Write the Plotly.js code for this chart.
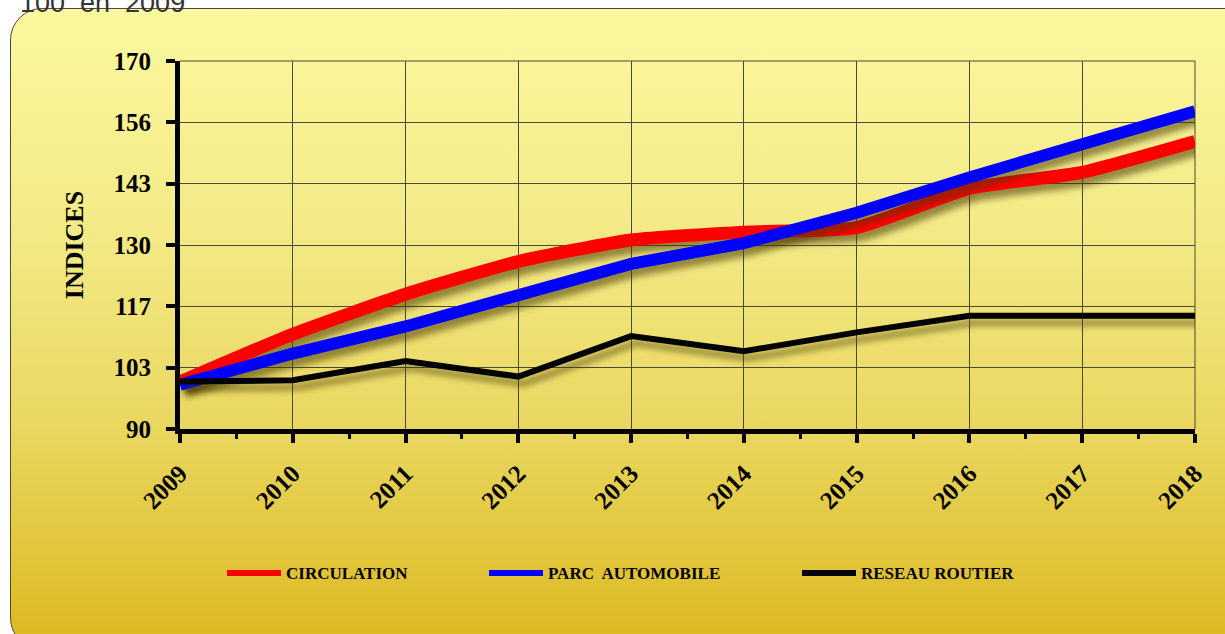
<!DOCTYPE html>
<html>
<head>
<meta charset="utf-8">
<script src="https://cdn.plot.ly/plotly-3.0.1.min.js"></script>
<style>
  html, body { margin: 0; padding: 0; background: #ffffff; overflow: hidden; }
  #panel {
    position: absolute; left: 10px; top: 8px; width: 1250px; height: 640px;
    border: 1px solid #4a4a40; border-radius: 32px;
    background: linear-gradient(to bottom, #fbf89f 0%, #f3ea86 35%, #e9d760 65%, #dcb81f 100%);
  }
  #chart { position: absolute; left: 0; top: 0; width: 1225px; height: 634px; }
  #chart .scatterlayer path.js-line { filter: drop-shadow(5px 7px 3px rgba(70,55,0,0.55)); }
  #chart path.xline, #chart path.yline { filter: drop-shadow(4px 6px 3px rgba(70,55,0,0.55)); }
</style>
</head>
<body>
<div id="panel"></div>
<div id="chart"></div>
<script>
// ---- data ----
const years = [2009, 2010, 2011, 2012, 2013, 2014, 2015, 2016, 2017, 2018];
const circulation = [100.2, 110.6, 119.3, 126.4, 131.1, 132.8, 133.8, 142.3, 145.8, 152.5];
const parcAutomobile = [99.6, 106.4, 112.3, 118.9, 125.9, 130.4, 137.0, 144.7, 152.2, 159.1];
const reseauRoutier = [100.3, 100.6, 104.8, 101.4, 110.2, 106.9, 111.0, 114.6, 114.6, 114.6];
const yTickVals = [90, 103.333, 116.667, 130, 143.333, 156.667, 170];
const yTickText = ['90', '103', '117', '130', '143', '156', '170'];
const seriesNames = ['CIRCULATION', 'PARC  AUTOMOBILE', 'RESEAU ROUTIER'];
const seriesColors = ['#ff0000', '#0000ff', '#000000'];

// ---- layout geometry (pixels) ----
const W = 1225, H = 634;
const L = 180, R = 1195, T = 61, B = 429;
const px2x = p => (p - L) / (R - L);
const px2y = p => (B - p) / (B - T);

const serif = 'Liberation Serif, Times New Roman, serif';

const traces = [
  { x: years, y: circulation, name: seriesNames[0], mode: 'lines',
    line: { color: seriesColors[0], width: 13, shape: 'spline', smoothing: 0.5 }, showlegend: false, cliponaxis: false },
  { x: years, y: parcAutomobile, name: seriesNames[1], mode: 'lines',
    line: { color: seriesColors[1], width: 12 }, showlegend: false, cliponaxis: false },
  { x: years, y: reseauRoutier, name: seriesNames[2], mode: 'lines',
    line: { color: seriesColors[2], width: 6 }, showlegend: false, cliponaxis: false }
];

// manual legend
const legendStarts = [227, 489, 802];
const legendY = 573;
const shapes = [
  { type: 'line', xref: 'paper', yref: 'paper', x0: 0, x1: 1, y0: 1, y1: 1, line: { color: '#4a4a3a', width: 1 }, layer: 'below' },
  { type: 'line', xref: 'paper', yref: 'paper', x0: 1, x1: 1, y0: 0, y1: 1, line: { color: '#4a4a3a', width: 1 }, layer: 'below' }
];
const annotations = [];
seriesNames.forEach((n, i) => {
  shapes.push({ type: 'line', xref: 'paper', yref: 'paper',
    x0: px2x(legendStarts[i]), x1: px2x(legendStarts[i] + 54),
    y0: px2y(legendY), y1: px2y(legendY),
    line: { color: seriesColors[i], width: 6 } });
  annotations.push({ xref: 'paper', yref: 'paper', x: px2x(legendStarts[i] + 57), y: px2y(legendY),
    xanchor: 'left', yanchor: 'middle', showarrow: false, text: n,
    font: { family: serif, size: 17, color: '#000', weight: 'bold' } });
});
annotations.push({ xref: 'paper', yref: 'paper', x: px2x(18), y: px2y(20),
  xanchor: 'left', yanchor: 'bottom', showarrow: false, text: '100  en  2009',
  font: { family: 'Liberation Sans, Arial, sans-serif', size: 27, color: '#333' } });

const layout = {
  width: W, height: H,
  margin: { l: L, r: W - R, t: T, b: H - B, pad: 0 },
  paper_bgcolor: 'rgba(0,0,0,0)',
  plot_bgcolor: 'rgba(0,0,0,0)',
  showlegend: false,
  xaxis: {
    range: [2009, 2018], tickvals: years, ticktext: years.map(String),
    tickangle: -45, ticks: 'outside', ticklen: 9, tickwidth: 4, tickcolor: '#000',
    ticklabelstandoff: 6,
    tickfont: { family: serif, size: 25, color: '#000', weight: 'bold' },
    showline: true, linecolor: '#000', linewidth: 5,
    showgrid: true, gridcolor: '#4a4a3a', gridwidth: 1, zeroline: false,
    minor: { tickvals: years.slice(0, -1).map(v => v + 0.5), ticks: 'outside', ticklen: 5, tickwidth: 3, tickcolor: '#000', showgrid: false }
  },
  yaxis: {
    range: [90, 170], tickvals: yTickVals, ticktext: yTickText,
    ticks: 'outside', ticklen: 9, tickwidth: 4, tickcolor: '#000',
    ticklabelstandoff: 10,
    tickfont: { family: serif, size: 25, color: '#000', weight: 'bold' },
    showline: true, linecolor: '#000', linewidth: 5,
    showgrid: true, gridcolor: '#4a4a3a', gridwidth: 1, zeroline: false,
    title: { text: 'INDICES', standoff: 24, font: { family: serif, size: 26, color: '#000', weight: 'bold' } }
  },
  shapes: shapes,
  annotations: annotations
};

Plotly.newPlot('chart', traces, layout, { displayModeBar: false, staticPlot: true });
</script>
</body>
</html>
